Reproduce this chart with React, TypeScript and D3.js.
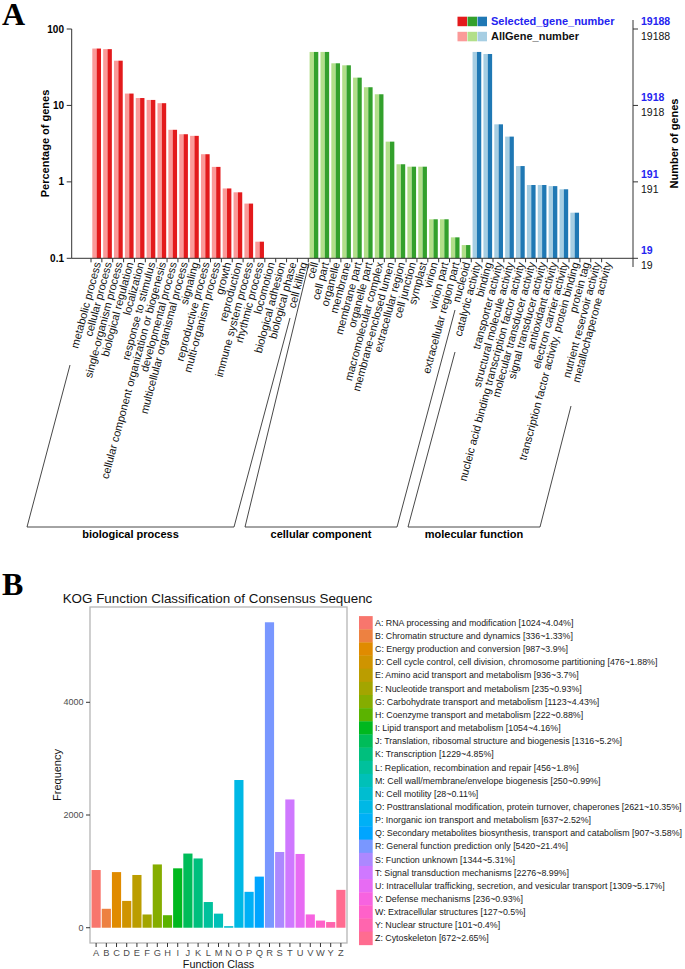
import React from 'react';
import * as d3 from 'd3';

// ---------- Panel A: GO classification ----------
const bpTerms = [
  'metabolic process', 'cellular process', 'single-organism process', 'biological regulation',
  'localization', 'response to stimulus', 'cellular component organization or biogenesis',
  'developmental process', 'multicellular organismal process', 'signaling', 'reproductive process',
  'multi-organism process', 'growth', 'reproduction', 'immune system process', 'rhythmic process',
  'locomotion', 'biological adhesion', 'biological phase', 'cell killing',
];
const ccTerms = [
  'cell', 'cell part', 'organelle', 'membrane', 'membrane part', 'organelle part',
  'macromolecular complex', 'membrane-enclosed lumen', 'extracellular region', 'cell junction',
  'symplast', 'virion', 'virion part', 'extracellular region part', 'nucleoid',
];
const mfTerms = [
  'catalytic activity', 'binding', 'transporter activity', 'structural molecule activity',
  'nucleic acid binding transcription factor activity', 'molecular transducer activity',
  'signal transducer activity', 'antioxidant activity', 'electron carrier activity',
  'transcription factor activity, protein binding', 'protein tag', 'nutrient reservoir activity',
  'metallochaperone activity',
];
// percentage of genes (0 = below axis minimum, no bar)
const bpPercent = [55.5, 54.5, 38.5, 14.3, 12.5, 11.8, 10.7, 4.8, 4.2, 4.0, 2.3, 1.57, 0.82, 0.73, 0.52, 0.165, 0, 0, 0, 0];
const ccPercent = [50.1, 50.1, 35.6, 33.5, 23.1, 17.3, 14.0, 3.36, 1.7, 1.58, 1.58, 0.324, 0.324, 0.188, 0.149];
const mfPercent = [50.1, 47.1, 5.66, 3.91, 1.61, 0.91, 0.91, 0.88, 0.8, 0.395, 0, 0, 0];

const groupNames = ['biological process', 'cellular component', 'molecular function'];
const percentTicks = [0.1, 1, 10, 100];
const selectedTickLabels = ['19', '191', '1918', '19188'];
const allGeneTickLabels = ['19', '191', '1918', '19188'];

const darkColors = ['#E31A1C', '#33A02C', '#1F78B4'];
const lightColors = ['#FB9A99', '#B2DF8A', '#A6CEE3'];

// ---------- Panel B: KOG classification ----------
const kogCodes = ['A', 'B', 'C', 'D', 'E', 'F', 'G', 'H', 'I', 'J', 'K', 'L', 'M', 'N', 'O', 'P', 'Q', 'R', 'S', 'T', 'U', 'V', 'W', 'Y', 'Z'];
const kogNames = [
  'RNA processing and modification', 'Chromatin structure and dynamics', 'Energy production and conversion',
  'Cell cycle control, cell division, chromosome partitioning', 'Amino acid transport and metabolism',
  'Nucleotide transport and metabolism', 'Carbohydrate transport and metabolism', 'Coenzyme transport and metabolism',
  'Lipid transport and metabolism', 'Translation, ribosomal structure and biogenesis', 'Transcription',
  'Replication, recombination and repair', 'Cell wall/membrane/envelope biogenesis', 'Cell motility',
  'Posttranslational modification, protein turnover, chaperones', 'Inorganic ion transport and metabolism',
  'Secondary metabolites biosynthesis, transport and catabolism', 'General function prediction only',
  'Function unknown', 'Signal transduction mechanisms', 'Intracellular trafficking, secretion, and vesicular transport',
  'Defense mechanisms', 'Extracellular structures', 'Nuclear structure', 'Cytoskeleton',
];
const kogCounts = [1024, 336, 987, 476, 936, 235, 1123, 222, 1054, 1316, 1229, 456, 250, 28, 2621, 637, 907, 5420, 1344, 2276, 1309, 236, 127, 101, 672];
const kogPercents = ['4.04', '1.33', '3.9', '1.88', '3.7', '0.93', '4.43', '0.88', '4.16', '5.2', '4.85', '1.8', '0.99', '0.11', '10.35', '2.52', '3.58', '21.4', '5.31', '8.99', '5.17', '0.93', '0.5', '0.4', '2.65'];
const freqTicks = [0, 2000, 4000];

// ggplot2 default hue palette (polar LUV)
function hclLuv(h: number, c = 100, l = 65) {
  const Xn = 95.047, Yn = 100, Zn = 108.883;
  const den = Xn + 15 * Yn + 3 * Zn;
  const un = (4 * Xn) / den, vn = (9 * Yn) / den;
  const rad = (h * Math.PI) / 180;
  const U = c * Math.cos(rad), V = c * Math.sin(rad);
  const Y = Yn * Math.pow((l + 16) / 116, 3);
  const up = U / (13 * l) + un, vp = V / (13 * l) + vn;
  const X = (Y * 9 * up) / (4 * vp);
  const Z = (Y * (12 - 3 * up - 20 * vp)) / (4 * vp);
  const x = X / 100, y = Y / 100, z = Z / 100;
  const lin = [
    3.2404542 * x - 1.5371385 * y - 0.4985314 * z,
    -0.969266 * x + 1.8760108 * y + 0.041556 * z,
    0.0556434 * x - 0.2040259 * y + 1.0572252 * z,
  ];
  const g = lin.map((v) => {
    const t = Math.max(0, Math.min(1, v));
    return Math.round(255 * (t <= 0.0031308 ? 12.92 * t : 1.055 * Math.pow(t, 1 / 2.4) - 0.055));
  });
  return d3.rgb(g[0], g[1], g[2]).formatHex();
}
const kogColors = kogCodes.map((_, i) => hclLuv(15 + (360 * i) / kogCodes.length));

const SANS = 'Liberation Sans, Arial, Helvetica, sans-serif';
const SERIF = 'Liberation Serif, Times New Roman, serif';

const PanelA = () => {
  const groups = [bpTerms, ccTerms, mfTerms];
  const pcts = [bpPercent, ccPercent, mfPercent];
  const rows = groups.flatMap((terms, g) => terms.map((t, i) => ({ term: t, value: pcts[g][i], group: g })));

  const base = 258.3;
  const x = d3.scaleBand<string>().domain(rows.map((r) => r.term)).range([91, 612.5]);
  const y = d3.scaleLog().domain([0.1, 100]).range([base, 29]);
  const bw = x.bandwidth();

  // bracket outlines under the labels: [topLeft, bottomLeft, bottomRight, topRight]
  const brackets = [
    [[70, 365], [27, 527], [234, 527], [290, 318]],
    [[309, 263], [245, 527], [397, 527], [455, 310]],
    [[455, 352], [408, 527], [540, 527], [571, 406]],
  ];

  return (
    <g fontFamily={SANS}>
      <text x={2} y={25} fontFamily={SERIF} fontWeight="bold" fontSize={32}>A</text>

      {rows.filter((r) => r.value > 0.1).map((r) => (
        <g key={r.term}>
          <rect x={x(r.term)! + bw * 0.12} y={y(r.value)} width={bw * 0.4} height={base - y(r.value)} fill={lightColors[r.group]} />
          <rect x={x(r.term)! + bw * 0.52} y={y(r.value)} width={bw * 0.4} height={base - y(r.value)} fill={darkColors[r.group]} />
        </g>
      ))}

      {/* axes */}
      <line x1={71.7} x2={633} y1={base} y2={base} stroke="#333" strokeWidth={1} />
      <line x1={71.7} x2={71.7} y1={29} y2={base} stroke="#333" strokeWidth={1} />
      <line x1={633} x2={633} y1={20} y2={267} stroke="#333" strokeWidth={1} />
      {percentTicks.map((t, i) => (
        <g key={t}>
          <line x1={66.7} x2={71.7} y1={y(t)} y2={y(t)} stroke="#333" />
          <text x={64} y={y(t) + 3.5} textAnchor="end" fontSize={10} fontWeight="bold">{t}</text>
          <line x1={633} x2={638} y1={y(t)} y2={y(t)} stroke="#333" />
          <text x={641} y={y(t) - 4} fontSize={10.5} fontWeight="bold" fill="#2424F0">{selectedTickLabels[i]}</text>
          <text x={641} y={y(t) + 11} fontSize={10.5} fill="#111">{allGeneTickLabels[i]}</text>
        </g>
      ))}
      {rows.map((r) => (
        <g key={'t' + r.term}>
          <line x1={x(r.term)!} x2={x(r.term)!} y1={base} y2={base + 4} stroke="#333" />
          <text
            transform={`translate(${x(r.term)! + bw * 0.92},${base + 5}) rotate(-75)`}
            textAnchor="end" fontSize={11} fill="#111"
          >{r.term}</text>
        </g>
      ))}

      <text transform={`translate(49,143.5) rotate(-90)`} textAnchor="middle" fontSize={11} fontWeight="bold">Percentage of genes</text>
      <text transform={`translate(678,143.5) rotate(-90)`} textAnchor="middle" fontSize={11} fontWeight="bold">Number of genes</text>

      {/* legend */}
      {darkColors.map((c, i) => (
        <rect key={'d' + c} x={457.5 + i * 10} y={16.7} width={9.5} height={9.5} fill={c} />
      ))}
      {lightColors.map((c, i) => (
        <rect key={'l' + c} x={457.5 + i * 10} y={31.8} width={9.5} height={9.5} fill={c} />
      ))}
      <text x={491} y={25} fontSize={11} fontWeight="bold" fill="#2424F0">Selected_gene_number</text>
      <text x={491} y={40} fontSize={11} fontWeight="bold" fill="#111">AllGene_number</text>

      {/* group brackets */}
      {brackets.map((pts, i) => (
        <g key={groupNames[i]}>
          <polyline points={pts.map((p) => p.join(',')).join(' ')} fill="none" stroke="#333" strokeWidth={0.9} />
          <text x={(pts[1][0] + pts[2][0]) / 2} y={538} textAnchor="middle" fontSize={11} fontWeight="bold">{groupNames[i]}</text>
        </g>
      ))}
    </g>
  );
};

const PanelB = () => {
  const left = 90, right = 347, top = 607, bottom = 943;
  const x = d3.scaleBand<string>().domain(kogCodes).range([left, right]).paddingInner(0.1).paddingOuter(0.15);
  const maxV = d3.max(kogCounts)!;
  const y = d3.scaleLinear().domain([-maxV * 0.05, maxV * 1.05]).range([bottom, top]);
  const rowH = 13.15;

  return (
    <g fontFamily={SANS}>
      <text x={2} y={595} fontFamily={SERIF} fontWeight="bold" fontSize={32}>B</text>
      <text x={62.7} y={603} fontSize={13.4} fill="#111">KOG Function Classification of Consensus Sequenc</text>

      {kogCodes.map((k, i) => (
        <rect key={k} x={x(k)} y={y(kogCounts[i])} width={x.bandwidth()} height={y(0) - y(kogCounts[i])} fill={kogColors[i]} />
      ))}
      <rect x={left} y={top} width={right - left} height={bottom - top} fill="none" stroke="#B5B5B5" strokeWidth={1.3} />

      {freqTicks.map((t) => (
        <g key={t}>
          <line x1={left - 4} x2={left} y1={y(t)} y2={y(t)} stroke="#333" />
          <text x={83.5} y={y(t) + 3.2} textAnchor="end" fontSize={9} fill="#4D4D4D">{t}</text>
        </g>
      ))}
      {kogCodes.map((k) => (
        <g key={'x' + k}>
          <line x1={x(k)! + x.bandwidth() / 2} x2={x(k)! + x.bandwidth() / 2} y1={bottom} y2={bottom + 4} stroke="#333" />
          <text x={x(k)! + x.bandwidth() / 2} y={955.5} textAnchor="middle" fontSize={9.3} fill="#4D4D4D">{k}</text>
        </g>
      ))}
      <text x={(left + right) / 2} y={967.5} textAnchor="middle" fontSize={10.8} fill="#111">Function Class</text>
      <text transform={`translate(61,${(top + bottom) / 2}) rotate(-90)`} textAnchor="middle" fontSize={11} fill="#111">Frequency</text>

      {/* legend */}
      {kogCodes.map((k, i) => (
        <g key={'lg' + k}>
          <rect x={359} y={616.1 + i * rowH} width={13.7} height={rowH + 0.3} fill={kogColors[i]} />
          <text x={375} y={616.1 + i * rowH + rowH / 2 + 3.2} fontSize={8.85} fill="#1A1A1A">
            {`${k}: ${kogNames[i]} [${kogCounts[i]}~${kogPercents[i]}%]`}
          </text>
        </g>
      ))}
    </g>
  );
};

export default function App() {
  return (
    <svg width={685} height={969} style={{ position: 'absolute', left: 0, top: 0, background: '#fff' }}>
      <rect width={685} height={969} fill="#fff" />
      <PanelA />
      <PanelB />
    </svg>
  );
}
